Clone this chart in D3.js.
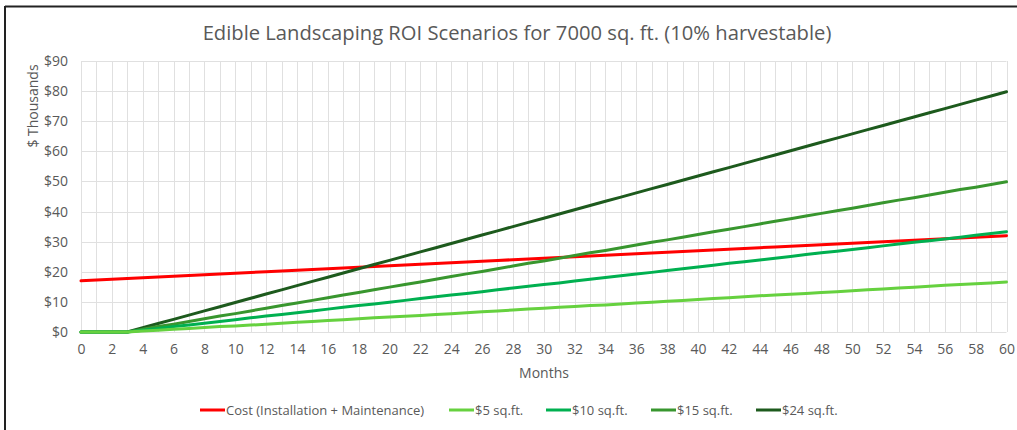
<!DOCTYPE html>
<html><head><meta charset="utf-8">
<script src="https://cdn.jsdelivr.net/npm/d3@7"></script>
<style>
html,body{margin:0;padding:0;background:#fff;}
svg{display:block;font-family:"Open Sans","Noto Sans",sans-serif;}
</style></head>
<body><svg id="c" width="1017" height="430"></svg>
<script>
const months = d3.range(0, 61);
const xTickLabels = d3.range(0, 61, 2);
const yTickLabels = [0,10,20,30,40,50,60,70,80,90];
const seriesNames = ["Cost (Installation + Maintenance)","$5 sq.ft.","$10 sq.ft.","$15 sq.ft.","$24 sq.ft."];
const seriesColors = ["#ff0000","#66d13f","#00b050","#38962e","#1d5a1d"];
const cost = [17,17.25,17.5,17.75,18,18.25,18.5,18.75,19,19.25,19.5,19.75,20,20.25,20.5,20.75,21,21.25,21.5,21.75,22,22.25,22.5,22.75,23,23.25,23.5,23.75,24,24.25,24.5,24.75,25,25.25,25.5,25.75,26,26.25,26.5,26.75,27,27.25,27.5,27.75,28,28.25,28.5,28.75,29,29.25,29.5,29.75,30,30.25,30.5,30.75,31,31.25,31.5,31.75,32];
const s5 = [0,0,0,0,0.3,0.6,0.9,1.2,1.5,1.8,2.0,2.3,2.6,2.9,3.2,3.5,3.8,4.1,4.4,4.7,5.0,5.2,5.5,5.8,6.1,6.4,6.7,7.0,7.3,7.6,7.9,8.2,8.5,8.8,9.0,9.3,9.6,9.9,10.2,10.5,10.8,11.1,11.4,11.7,12.0,12.3,12.5,12.8,13.1,13.4,13.7,14.0,14.3,14.6,14.9,15.2,15.5,15.8,16.0,16.3,16.6];
const s10 = [0,0,0,0,0.6,1.2,1.8,2.3,2.9,3.5,4.1,4.7,5.3,5.8,6.4,7.0,7.6,8.2,8.8,9.3,9.9,10.5,11.1,11.7,12.3,12.8,13.4,14.0,14.6,15.2,15.8,16.3,16.9,17.5,18.1,18.7,19.3,19.8,20.4,21.0,21.6,22.2,22.8,23.3,23.9,24.5,25.1,25.7,26.3,26.8,27.4,28.0,28.6,29.2,29.8,30.3,30.9,31.5,32.1,32.7,33.3];
const s15 = [0,0,0,0,0.9,1.8,2.6,3.5,4.4,5.3,6.1,7.0,7.9,8.8,9.6,10.5,11.4,12.3,13.1,14.0,14.9,15.8,16.6,17.5,18.4,19.3,20.1,21.0,21.9,22.8,23.6,24.5,25.4,26.3,27.1,28.0,28.9,29.8,30.6,31.5,32.4,33.3,34.1,35.0,35.9,36.8,37.6,38.5,39.4,40.3,41.1,42.0,42.9,43.8,44.6,45.5,46.4,47.3,48.1,49.0,49.9];
const s24 = [0,0,0,0,1.4,2.8,4.2,5.6,7.0,8.4,9.8,11.2,12.6,14.0,15.4,16.8,18.2,19.6,21.0,22.4,23.8,25.2,26.6,28.0,29.4,30.8,32.2,33.6,35.0,36.4,37.8,39.2,40.6,42.0,43.4,44.8,46.2,47.6,49.0,50.4,51.8,53.2,54.6,56.0,57.4,58.8,60.2,61.6,63.0,64.4,65.8,67.2,68.6,70.0,71.4,72.8,74.2,75.6,77.0,78.4,79.8];
const seriesValues = [cost, s5, s10, s15, s24];

const svg = d3.select("#c");
const txt = "#595959";
// outer border (top & left)
svg.append("line").attr("x1",5).attr("x2",1017).attr("y1",6.5).attr("y2",6.5).attr("stroke","#222").attr("stroke-width",2);
svg.append("line").attr("x1",5).attr("x2",5).attr("y1",6).attr("y2",430).attr("stroke","#222").attr("stroke-width",2);

const x = d3.scaleLinear().domain([0,60]).range([81,1006.5]);
const y = d3.scaleLinear().domain([0,90]).range([332,61]);

// vertical gridlines
svg.append("g").selectAll("line").data(months).join("line")
  .attr("x1",d=>Math.round(x(d))+0.5).attr("x2",d=>Math.round(x(d))+0.5)
  .attr("y1",y(90)).attr("y2",y(0)).attr("stroke","#e0e0e0").attr("stroke-width",1);
// horizontal gridlines
svg.append("g").selectAll("line").data(yTickLabels).join("line")
  .attr("x1",x(0)).attr("x2",x(60)).attr("y1",d=>Math.round(y(d))+0.5).attr("y2",d=>Math.round(y(d))+0.5)
  .attr("stroke","#e0e0e0").attr("stroke-width",1);

// y axis labels
const yAxis = d3.axisLeft(y).tickValues(yTickLabels).tickFormat(d=>"$"+d).tickSize(0).tickPadding(13);
const gy = svg.append("g").attr("transform",`translate(${x(0)},0)`).call(yAxis);
gy.select(".domain").remove();
gy.selectAll("text").attr("fill",txt).style("font-size","14px").style("font-family","'Open Sans',sans-serif");

// x axis labels
const xAxis = d3.axisBottom(x).tickValues(xTickLabels).tickFormat(d=>d).tickSize(0).tickPadding(12);
const gx = svg.append("g").attr("transform",`translate(0,${y(0)})`).call(xAxis);
gx.select(".domain").remove();
gx.selectAll("text").attr("fill",txt).style("font-size","14px").style("font-family","'Open Sans',sans-serif");

// lines (greens drawn darkest first so the light one sits on top at the flat start)
const line = d3.line().x((d,i)=>x(months[i])).y(d=>y(d));
[0,4,3,2,1].forEach(i=>{
  svg.append("path").datum(seriesValues[i]).attr("d",line).attr("fill","none")
    .attr("stroke",seriesColors[i]).attr("stroke-width",3).attr("stroke-linejoin","round").attr("stroke-linecap","round");
});

// title
svg.append("text").attr("x",517).attr("y",40).attr("text-anchor","middle").attr("fill",txt)
  .style("font-size","20.2px").text("Edible Landscaping ROI Scenarios for 7000 sq. ft. (10% harvestable)");
// axis titles
svg.append("text").attr("transform","translate(38,106) rotate(-90)").attr("text-anchor","middle").attr("fill",txt)
  .style("font-size","14px").text("$ Thousands");
svg.append("text").attr("x",544).attr("y",378).attr("text-anchor","middle").attr("fill",txt)
  .style("font-size","14px").text("Months");

// legend
const legX = [200,449,546,651,756];
const lg = svg.append("g");
seriesNames.forEach((n,i)=>{
  lg.append("line").attr("x1",legX[i]).attr("x2",legX[i]+25).attr("y1",410).attr("y2",410)
    .attr("stroke",seriesColors[i]).attr("stroke-width",3);
  lg.append("text").attr("x",legX[i]+26).attr("y",414.5).attr("fill",txt).style("font-size","13px").text(n);
});
</script></body></html>
